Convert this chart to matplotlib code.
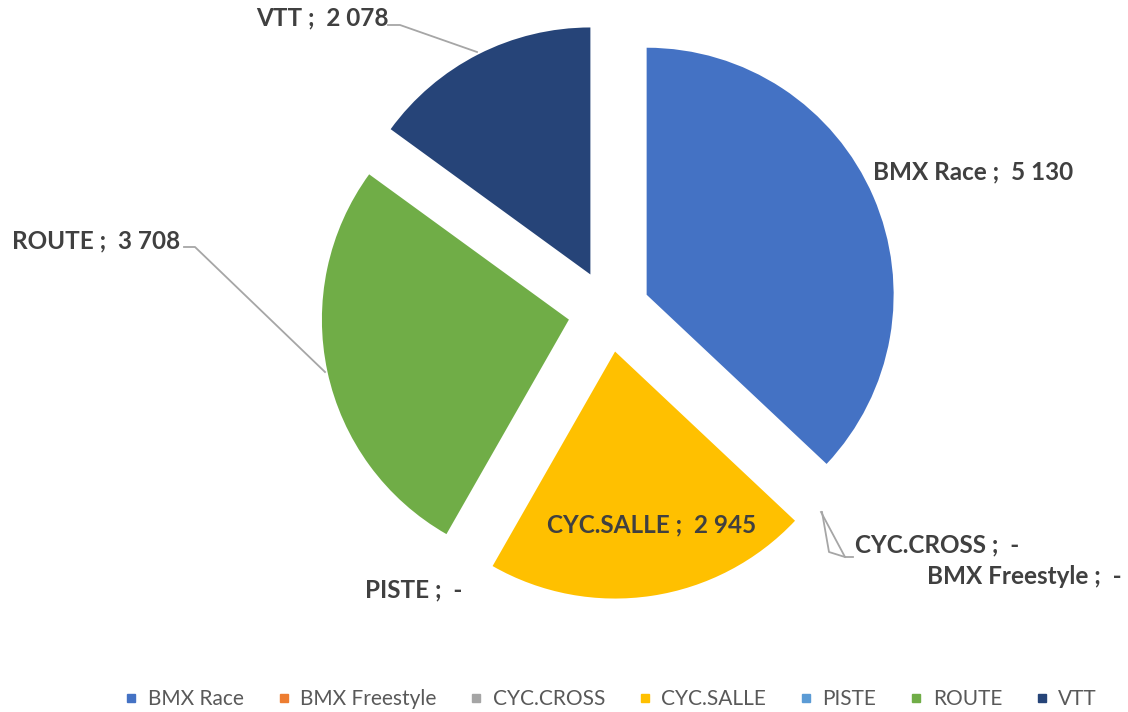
import matplotlib.pyplot as plt
from matplotlib.lines import Line2D

# ==============================
# DATA
# ==============================
categories = ["BMX Race", "BMX Freestyle", "CYC.CROSS", "CYC.SALLE", "PISTE", "ROUTE", "VTT"]
values = [5130, 0, 0, 2945, 0, 3708, 2078]
value_labels = ["5 130", "-", "-", "2 945", "-", "3 708", "2 078"]
colors = ["#4472C4", "#ED7D31", "#A5A5A5", "#FFC000", "#5B9BD5", "#70AD47", "#264478"]

# ==============================
# LAYOUT (pixel coords, y from top)
# ==============================
W, H = 1128, 712
center = (609, 311)
radius = 247
explode_px = 41

# label position (x, y, ha)
label_pos = {
    "BMX Race": (873, 172, "left"),
    "BMX Freestyle": (927, 576, "left"),
    "CYC.CROSS": (855, 545, "left"),
    "CYC.SALLE": (652, 525, "center"),
    "PISTE": (365, 590, "left"),
    "ROUTE": (12, 241, "left"),
    "VTT": (256, 18, "left"),
}
leaders = [
    [(388, 25), (400, 25), (477, 52)],
    [(184, 247), (195, 247), (325, 372)],
    [(821, 512), (845, 557), (853, 557)],
    [(822, 512), (829, 552), (845, 557)],
]


def fy(y):
    return H - y


plt.rcParams["font.family"] = ["Lato", "DejaVu Sans"]

fig = plt.figure(figsize=(W / 100, H / 100), dpi=100)
ax = fig.add_axes([0, 0, 1, 1])

ax.pie(
    values,
    colors=colors,
    startangle=90,
    counterclock=False,
    radius=radius,
    center=(center[0], fy(center[1])),
    explode=[explode_px] * len(values),
    wedgeprops=dict(linewidth=0),
)
ax.set_xlim(0, W)
ax.set_ylim(0, H)
ax.set_aspect("equal")
ax.axis("off")

for pts in leaders:
    ax.plot([p[0] for p in pts], [fy(p[1]) for p in pts], color="#A6A6A6", lw=1.3)

for cat, val in zip(categories, value_labels):
    x, y, ha = label_pos[cat]
    ax.text(x, fy(y), f"{cat} ;  {val}", ha=ha, va="center",
            fontsize=17.5, fontweight="bold", color="#404040")

handles = [Line2D([], [], marker="s", ls="", color=c, markersize=6) for c in colors]
ax.legend(handles, categories, loc="center", bbox_to_anchor=(610 / W, 13 / H),
          ncol=7, frameon=False, fontsize=15, labelcolor="#595959",
          handletextpad=0.4, columnspacing=1.5, handlelength=0.8)

fig.savefig("out.png", dpi=100)
